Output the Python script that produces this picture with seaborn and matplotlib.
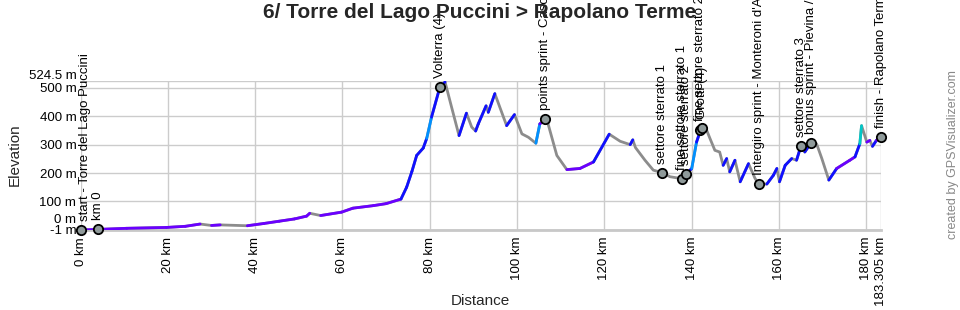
import numpy as np
import pandas as pd
import matplotlib
matplotlib.use("Agg")
import matplotlib.pyplot as plt
import seaborn as sns
from matplotlib.collections import LineCollection
from matplotlib.transforms import ScaledTranslation

# ---------------- data ----------------
title = "6/ Torre del Lago Puccini > Rapolano Terme"

dist_km = [0, 3.9, 10.6, 19.7, 24, 27.4, 30, 32, 38.2, 42, 45.5, 49, 51.8, 52.5, 55,
           59.8, 62.4, 67.1, 70, 73.4, 74.7, 75.9, 77, 78.5, 79.3, 80.4, 82.3, 83.5,
           85, 86.7, 88.4, 89.6, 90.5, 91.1, 92.9, 93.4, 94.9, 97.6, 99.4, 101.1,
           102.6, 104.3, 105.2, 106.5, 107.1, 109.1, 111.4, 114.4, 117.5, 121.1,
           123.6, 125.9, 126.5, 127.1, 129.3, 131.2, 133.3, 135, 137.7, 138.8, 140,
           141.1, 142.0, 142.4, 143, 144.2, 145.3, 146.4, 147.2, 148, 148.7, 149.9,
           151.1, 153, 154.5, 155.3, 157.2, 158.7, 159.5, 160.1, 161.4, 162.9, 164,
           165, 165.9, 167.3, 168.6, 169.8, 171.4, 173.2, 176.2, 177.4, 178.5, 178.9,
           180.1, 180.8, 181.4, 182.3, 183.305]
elev_m = [-1, 1, 5, 8, 12, 20, 15, 17, 14, 22, 30, 38, 48, 58, 50,
          62, 76, 85, 92, 108, 150, 205, 262, 288, 322, 397, 502, 521,
          432, 332, 411, 362, 348, 373, 437, 414, 480, 367, 406, 338,
          326, 305, 373, 391, 373, 262, 212, 216, 239, 337,
          312, 300, 317, 290, 245, 210, 201, 187, 180, 198, 216,
          309, 350, 357, 367, 321, 280, 274, 227, 251, 204, 245,
          169, 233, 181, 162, 161, 192, 216, 169, 227, 251, 245,
          294, 274, 306, 303, 251, 175, 216, 245, 257, 303, 367,
          309, 315, 294, 315, 327]

wpt_names = ["start - Torre del Lago Puccini", "km 0", "Volterra (4)",
             "points sprint - Casole d'Elsa", "settore sterrato 1",
             "fine settore sterrato 1", "settore sterrato 2",
             "fine settore sterrato 2", "Grotti (4)",
             "Intergiro sprint - Monteroni d'Arbia", "settore sterrato 3",
             "bonus sprint - Pievina / fine settore sterrato 3",
             "finish - Rapolano Terme"]
wpt_km = [0, 3.9, 82.3, 106.5, 133.3, 137.7, 138.8, 142.0, 142.4, 155.3, 165.0, 167.3, 183.305]

x_ticks = [0, 20, 40, 60, 80, 100, 120, 140, 160, 180, 183.305]
x_tick_labels = ["0 km", "20 km", "40 km", "60 km", "80 km", "100 km", "120 km",
                 "140 km", "160 km", "180 km", "183.305 km"]
y_ticks = [-1, 0, 100, 200, 300, 400, 500, 524.5]
y_tick_labels = ["-1 m", "0 m", "100 m", "200 m", "300 m", "400 m", "500 m", "524.5 m"]

# ---------------- style ----------------
sns.set_theme(style="white")
plt.rcParams["font.family"] = ["Liberation Sans", "DejaVu Sans"]

fig = plt.figure(figsize=(9.6, 3.1), dpi=100)
ax = fig.add_axes([80.5 / 960, 80 / 310, 800.3 / 960, 149 / 310])

df = pd.DataFrame({"km": dist_km, "elev": elev_m})
sns.lineplot(data=df, x="km", y="elev", color="#8c8c8c", lw=2, ax=ax,
             sort=False, zorder=3)

# colour climbing segments by gradient
x = np.asarray(dist_km, float)
y = np.asarray(elev_m, float)
grade = np.diff(y) / (np.diff(x) * 1000) * 100
seg_colors = []
segs = []
for i, g in enumerate(grade):
    if g <= 0:
        continue
    if g < 1.5:
        c = "#6a00ff"
    elif g < 6:
        c = "#1010ff"
    elif g < 9:
        c = "#0090ff"
    else:
        c = "#00c8c8"
    segs.append([(x[i], y[i]), (x[i + 1], y[i + 1])])
    seg_colors.append(c)
ax.add_collection(LineCollection(segs, colors=seg_colors, linewidths=2, zorder=4,
                                 capstyle="round"))

wpt_elev = np.interp(wpt_km, x, y)
sns.scatterplot(x=wpt_km, y=wpt_elev, s=45, color="#8f9a9a", edgecolor="black",
                linewidth=1.3, ax=ax, zorder=6, clip_on=False)
for i, (name, k, e) in enumerate(zip(wpt_names, wpt_km, wpt_elev)):
    dx = 3 if i == 0 else 0
    ax.annotate(name, (k, e), xytext=(dx, 6.5), textcoords="offset points",
                rotation=90, ha="center", va="bottom", fontsize=9.5,
                color="black", annotation_clip=False)

ax.set_xlim(0, 183.305)
ax.set_ylim(-1, 524.5)
ax.set_xticks(x_ticks)
ax.set_xticklabels(x_tick_labels, rotation=90, fontsize=9.5)
ax.set_yticks(y_ticks)
ax.set_yticklabels(y_tick_labels, fontsize=9.5)
ax.tick_params(axis="x", length=0, pad=5, colors="black")
ax.tick_params(axis="y", length=0, pad=3, colors="black")
ax.grid(True, color="#cccccc", lw=1)
ax.set_xlabel("")
ax.set_ylabel("")
for s in ["left", "top", "right"]:
    ax.spines[s].set_visible(False)
ax.spines["bottom"].set_color("#c8c8c8")
ax.spines["bottom"].set_linewidth(2)

# nudge overlapping y labels
yt = ax.yaxis.get_major_ticks()
for t, lab in zip(yt, y_tick_labels):
    if lab == "0 m":
        t.label1.set_transform(t.label1.get_transform() +
                               ScaledTranslation(0, 11 / 100, fig.dpi_scale_trans))
    if lab == "524.5 m":
        t.label1.set_transform(t.label1.get_transform() +
                               ScaledTranslation(0, 6 / 100, fig.dpi_scale_trans))

fig.text(0.5, 1 - 13 / 310, title, ha="center", va="center", fontsize=15,
         weight="bold")
fig.text(480 / 960, 1 - 301 / 310, "Distance", ha="center", va="center", fontsize=11)
fig.text(15 / 960, 1 - 155 / 310, "Elevation", ha="center", va="center",
         rotation=90, fontsize=11)
fig.text(953 / 960, 1 - 155 / 310, "created by GPSVisualizer.com", ha="center",
         va="center", rotation=90, color="#888888", fontsize=9)

fig.savefig("out.png", dpi=100)
